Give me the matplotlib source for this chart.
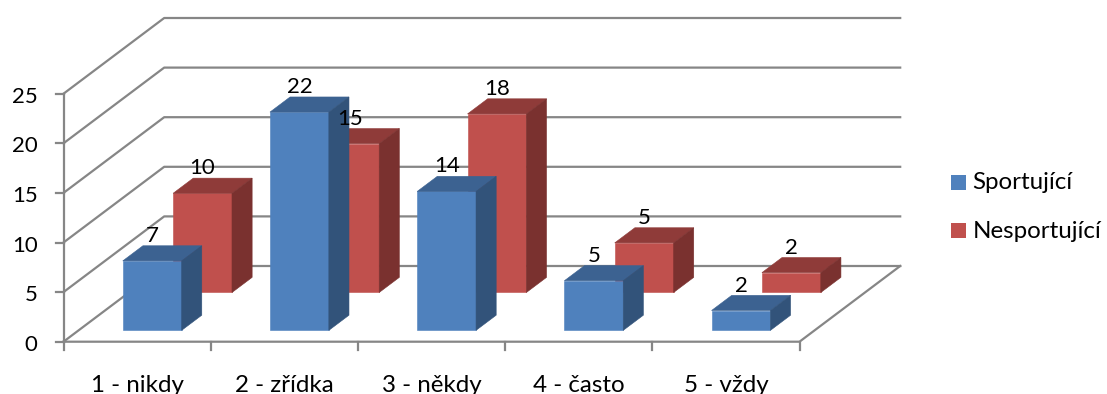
from matplotlib import pyplot as plt
from matplotlib.patches import Polygon, Rectangle

categories = ["1 - nikdy", "2 - zřídka", "3 - někdy", "4 - často", "5 - vždy"]
sportujici = [7, 22, 14, 5, 2]
nesportujici = [10, 15, 18, 5, 2]
y_ticks = [0, 5, 10, 15, 20, 25]

plt.rcParams["font.family"] = ["Lato", "DejaVu Sans"]

# plot box in pixels: front floor edge, height of one unit, depth of the box
LEFT, RIGHT, FLOOR = 63.5, 799.5, 341.7
UNIT = 9.92
DEPTH_X, DEPTH_Y = 100.7, 75.7

GRID = "#868686"
GRID_LW = 1.6
NUMBER_SIZE = 16
TEXT_SIZE = 17.4


def project(cat_pos, value, depth):
    # oblique projection: cat_pos in categories, depth from 0 (front) to 1 (back)
    x = LEFT + cat_pos * (RIGHT - LEFT) / len(categories) + depth * DEPTH_X
    y = FLOOR - value * UNIT - depth * DEPTH_Y
    return x, y


def draw_walls(ax):
    for value in y_ticks:
        points = [project(0, value, 0), project(0, value, 1), project(5, value, 1)]
        ax.plot(*zip(*points), color=GRID, lw=GRID_LW, zorder=1)

        x, y = project(0, value, 0)
        ax.plot([x - 8, x], [y, y], color=GRID, lw=GRID_LW, zorder=1)
        ax.text(
            x - 26, y + 9, str(value), ha="right", va="baseline", fontsize=NUMBER_SIZE
        )

    # front and right floor edges, left wall edge
    floor = [project(0, 0, 0), project(5, 0, 0), project(5, 0, 1)]
    ax.plot(*zip(*floor), color=GRID, lw=GRID_LW, zorder=1)
    ax.plot(*zip(project(0, 0, 0), project(0, 25, 0)), color=GRID, lw=GRID_LW, zorder=1)

    for i in range(len(categories) + 1):
        x, y = project(i, 0, 0)
        ax.plot([x, x], [y, y + 8], color=GRID, lw=GRID_LW, zorder=1)

    for i, name in enumerate(categories):
        x, _ = project(i + 0.5, 0, 0)
        ax.text(x, 392.5, name, ha="center", va="baseline", fontsize=TEXT_SIZE)


def draw_bar(ax, i, value, front, colors, zorder):
    x0, x1 = i + 0.3, i + 0.7
    back = front + 0.2
    face, top, side = colors

    faces = [
        (face, [(x0, 0, front), (x1, 0, front), (x1, value, front), (x0, value, front)]),
        (top, [(x0, value, front), (x1, value, front), (x1, value, back), (x0, value, back)]),
        (side, [(x1, 0, front), (x1, 0, back), (x1, value, back), (x1, value, front)]),
    ]
    for color, corners in faces:
        points = [project(*corner) for corner in corners]
        ax.add_patch(
            Polygon(points, closed=True, facecolor=color, edgecolor=color, lw=0.4, zorder=zorder)
        )

    x, y = project(i + 0.5, value, front)
    ax.text(
        x, y - 19, str(value), ha="center", va="baseline", fontsize=NUMBER_SIZE, zorder=6
    )


def draw_legend(ax):
    entries = [("Sportující", "#4F81BD", 175, 189), ("Nesportující", "#C0504D", 222.5, 238)]
    for name, color, y, baseline in entries:
        ax.add_patch(Rectangle((951, y), 15, 15, facecolor=color, edgecolor="none"))
        ax.text(972.5, baseline, name, ha="left", va="baseline", fontsize=TEXT_SIZE)


def plot_chart():
    fig = plt.figure(figsize=(11.07, 3.94), dpi=100)
    ax = fig.add_axes([0, 0, 1, 1])
    ax.set_xlim(0, 1107)
    ax.set_ylim(394, 0)
    ax.axis("off")

    draw_walls(ax)

    # back row first so the front row covers it
    red = ("#C0504D", "#8F3B39", "#7A312F")
    blue = ("#4F81BD", "#3C6291", "#32537A")
    for i, value in enumerate(nesportujici):
        draw_bar(ax, i, value, 0.65, red, zorder=3)
    for i, value in enumerate(sportujici):
        draw_bar(ax, i, value, 0.15, blue, zorder=4)

    draw_legend(ax)

    plt.savefig("out.png")


if __name__ == "__main__":

    plot_chart()
